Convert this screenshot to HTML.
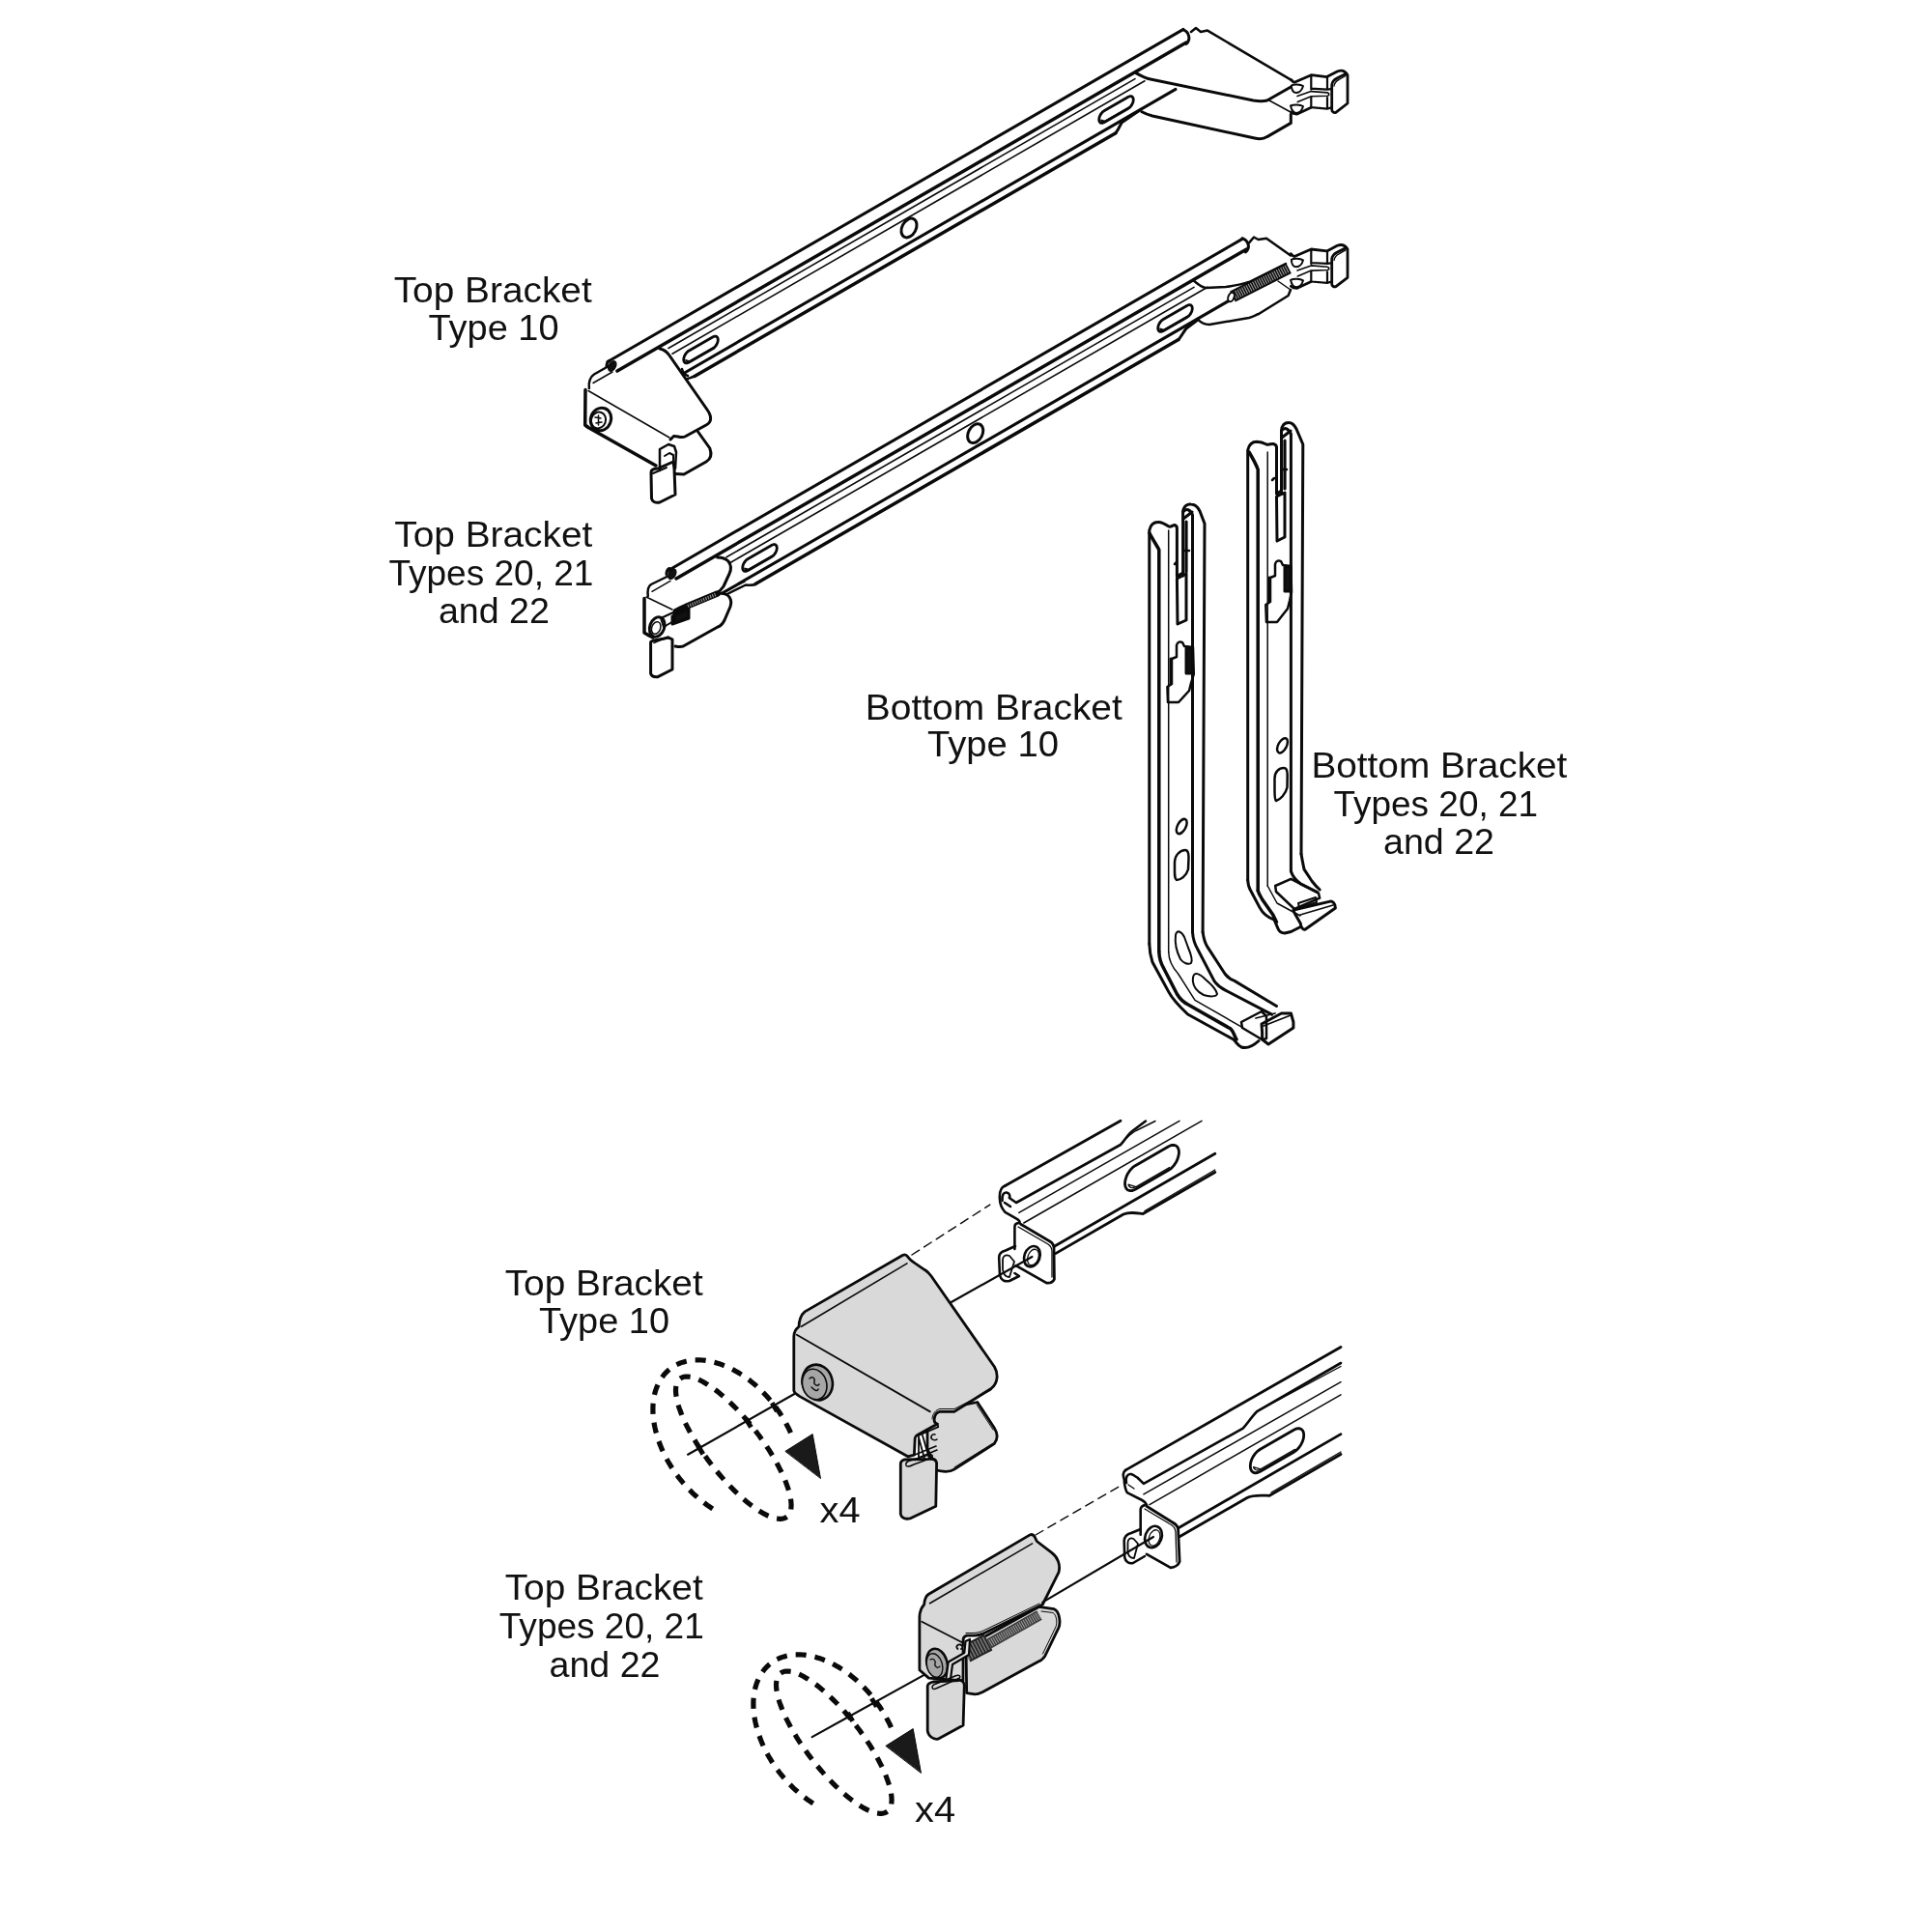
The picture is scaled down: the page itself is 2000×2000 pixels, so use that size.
<!DOCTYPE html>
<html><head><meta charset="utf-8"><style>
html,body{margin:0;padding:0;background:#fff;}
svg{display:block;}
text{font-family:"Liberation Sans",sans-serif;fill:#111;}
svg g.t{will-change:transform;}
</style></head><body>
<svg width="2000" height="2000" viewBox="0 0 2000 2000">
<g stroke="#0a0a0a" stroke-linecap="round" stroke-linejoin="round" fill="none">
<path d="M629.0,374.5L1225.0,30.4" stroke-width="3" fill="none" />
<path d="M639.0,384.1L1228.0,44.0" stroke-width="3.5" fill="none" />
<path d="M631,373.4 C628.5,374.5 628,377 628,379.5" stroke-width="3" fill="none" />
<path d="M1225,30.9 C1231,33 1233,41 1228,45.5" stroke-width="3" fill="none" />
<ellipse cx="633.8" cy="379" rx="3.4" ry="5.6" transform="rotate(30 633.8 379)" stroke-width="1.5" fill="#111"/>
<path d="M609.9,402 C609,396 611,390 615,387.5 L630,379" stroke-width="2.5" fill="none" />
<path d="M614.0,396.5L634.0,385.0" stroke-width="1.5" fill="none" />
<path d="M683,361 C688,362 691,365 693,368 L732,424 C737,431 737,437 731,440 L709,452 C705,454 701,451 697.5,451.5 L694,455" stroke-width="3" fill="none" />
<path d="M609,404.5 L693,453" stroke-width="1.5" fill="none" />
<path d="M606,403.5 L605.7,440 L609,442.5 L679,482" stroke-width="3.5" fill="none" />
<ellipse cx="622" cy="434" rx="10.5" ry="12" transform="rotate(20 622 434)" stroke-width="3" fill="none"/>
<ellipse cx="619.5" cy="435" rx="7.5" ry="8.5" transform="rotate(20 619.5 435)" stroke-width="2" fill="none"/>
<path d="M616,432 L622,433 M617,438 L623,437 M619.5,430 L619.5,440" stroke-width="1.5" fill="none" />
<path d="M683,487 L683,465 L692,460 L698,462 L700,468 L699,485" stroke-width="2.5" fill="none" />
<path d="M688,472 L693,469 L697,471 L697,480" stroke-width="2" fill="none" />
<path d="M674,489 C674,486 677,485 681,485 L697,478 L698,485 L699,512 L683,520 C678,521 675,519 674.5,516 Z" stroke-width="3" fill="none" />
<path d="M676,490 L690,484" stroke-width="2" fill="none" />
<path d="M722.6,447 L734.8,464 C737,470 736,475 731,478 L708,491 L698.5,490.5" stroke-width="3" fill="none" />
<path d="M692.0,360.5L1175.0,81.6" stroke-width="1.6" fill="none" />
<path d="M696.0,366.2L1185.0,83.8" stroke-width="1.6" fill="none" />
<path d="M709.0,385.7L1217.0,92.4" stroke-width="3" fill="none" />
<path d="M706,382 C707,386 709,388 712,389" stroke-width="2.5" fill="none" />
<path d="M719.0,389.4L1155.0,137.7" stroke-width="3.5" fill="none" />
<path d="M712,392 C715,391 717,390.5 719,389.4" stroke-width="2.5" fill="none" />
<path d="M1155,137.6 C1158,134 1159,131 1161,127 L1180,114" stroke-width="3" fill="none" />
<path d="M738.1,348.8 L739.4,348.2 L740.7,348.1 L741.7,348.4 L742.6,349.2 L743.1,350.3 L743.3,351.8 L743.1,353.4 L742.6,355.2 L741.7,356.9 L740.7,358.4 L739.4,359.8 L738.1,360.8 L712.9,375.2 L711.6,375.8 L710.3,375.9 L709.3,375.6 L708.4,374.8 L707.9,373.7 L707.7,372.2 L707.9,370.6 L708.4,368.8 L709.3,367.1 L710.3,365.6 L711.6,364.2 L712.9,363.2 Z" stroke-width="2.8" fill="none" />
<path d="M738.9,359.4 L713.7,373.9 L709.8,372.7 L710.2,373.6 L710.9,374.2 L711.7,374.5 L712.7,374.4 L713.7,373.9" stroke-width="1.3" fill="none" />
<path d="M1168.1,100.2 L1169.4,99.7 L1170.7,99.6 L1171.7,99.9 L1172.6,100.7 L1173.1,101.8 L1173.3,103.2 L1173.1,104.9 L1172.6,106.7 L1171.7,108.4 L1170.7,109.9 L1169.4,111.3 L1168.1,112.2 L1142.9,126.8 L1141.6,127.3 L1140.3,127.4 L1139.3,127.1 L1138.4,126.3 L1137.9,125.2 L1137.7,123.8 L1137.9,122.1 L1138.4,120.3 L1139.3,118.6 L1140.3,117.1 L1141.6,115.7 L1142.9,114.8 Z" stroke-width="2.8" fill="none" />
<path d="M1168.9,110.9 L1143.7,125.4 L1139.8,124.2 L1140.2,125.1 L1140.9,125.7 L1141.7,126.0 L1142.7,125.9 L1143.7,125.4" stroke-width="1.3" fill="none" />
<ellipse cx="941" cy="236" rx="7.2" ry="10.5" transform="rotate(28 941 236)" stroke-width="3" fill="none"/>
<path d="M1233,33 L1238,29 L1243,33 L1250,31.6 L1337.6,83.4" stroke-width="2.5" fill="none" />
<path d="M1176,75.6 C1182,79 1186,81 1191,82 L1297.5,104 C1303,105 1308,105 1311.7,104 L1336.3,90" stroke-width="3" fill="none" />
<path d="M1182,115.8 C1186,118 1189,119 1193,120 L1298.8,143 C1303,144 1308,144 1311.7,141.6 L1336.3,127.4 L1336.3,118.3" stroke-width="3" fill="none" />
<path d="M1314,104 L1336,116" stroke-width="1.5" fill="none" />
<path d="M1336.3,82.4 C1338.0,84.5 1339.0,85.2 1340.0,85.2 L1357.3,77.7 L1373.6,79.6 L1384.3,74.0 C1388.0,72.5 1392.0,72.5 1395.0,77.7 L1395.0,107.0 L1382.9,116.4 C1380.5,117.0 1378.7,115.5 1378.7,113.6 L1378.7,88.0 C1379.0,85.0 1381.0,82.5 1384.0,81.0 L1394.0,76.0" stroke-width="2.8" fill="none" />
<path d="M1381.0,89.0 C1381.5,86.0 1383.0,84.0 1386.0,82.5 L1393.0,78.5" stroke-width="1.4" fill="none" />
<path d="M1357.3,78.0 L1357.3,92.6 M1374.0,79.6 L1374.0,92.6 M1357.3,91.7 L1374.0,92.6 L1378.0,92.1" stroke-width="2.2" fill="none" />
<path d="M1343.0,99.6 L1357.3,94.6 L1374.0,95.9 C1376.5,96.5 1376.5,98.8 1374.0,99.2 L1357.3,99.8 L1343.3,105.6" stroke-width="1.6" fill="none" />
<path d="M1357.3,100.5 L1357.3,111.2 M1374.0,101.0 L1374.0,112.6 M1357.3,111.2 L1374.0,112.6 L1378.5,111.2" stroke-width="2.2" fill="none" />
<path d="M1336.3,115.9 C1338.0,117.5 1340.0,118.2 1342.4,118.2 L1357.3,111.2" stroke-width="2.6" fill="none" />
<path d="M1336.8,88.5 C1339.0,87.0 1346.0,87.0 1349.0,89.0 C1348.0,93.0 1345.0,96.0 1342.0,96.0 C1339.0,96.0 1337.0,93.0 1336.8,88.5 Z" stroke-width="2" fill="none" />
<path d="M1336.0,109.5 C1339.0,108.0 1346.0,108.0 1349.0,110.0 C1348.0,114.0 1345.0,117.0 1342.0,117.0 C1339.0,117.0 1337.0,114.0 1336.0,109.5 Z" stroke-width="2" fill="none" />
<path d="M691.0,591.0L1286.0,247.4" stroke-width="3" fill="none" />
<path d="M700.0,598.9L1290.0,258.2" stroke-width="3.5" fill="none" />
<path d="M693,588.5 C690.5,589.5 690,592 690,594.5" stroke-width="3" fill="none" />
<ellipse cx="695.8" cy="594.2" rx="3.4" ry="5.6" transform="rotate(30 695.8 594.2)" stroke-width="1.5" fill="#111"/>
<path d="M1286,246.7 C1292,249 1295,256 1289.5,261" stroke-width="3" fill="none" />
<path d="M670.8,617 C670,611 671,607 674,605 L690.4,597" stroke-width="2.5" fill="none" />
<path d="M675.0,612.3L694.0,601.3" stroke-width="1.5" fill="none" />
<path d="M667,619.6 L667,655 L672,658 L676,660" stroke-width="3.5" fill="none" />
<path d="M669,618 L696,631" stroke-width="1.5" fill="none" />
<path d="M742.6,577 C748,577 752,579 754,581 C757,585 757,590 755,594 L749,607 C747,610 745,612 742,614" stroke-width="3" fill="none" />
<path d="M700,633 C704,631 707,629 710,628 L742.6,614.5" stroke-width="6.5" fill="none" />
<path d="M712,627.5 L742,615" stroke-width="3.5" fill="none" stroke="#999" stroke-linecap="butt" stroke-dasharray="1.1 1.4"/>
<path d="M696,638 L696,646 L713,640 L713,630 Z" stroke-width="3" fill="#111" />
<path d="M743,614 C749,614 753,615 755,618 C757,621 757,625 756,628 L750,642 C748,646 746,648 743,649 L709,668 C707,670 704,670 699,669" stroke-width="3" fill="none" />
<path d="M673.6,665 L673.6,697 C674,700 677,701 681,700.7 L696,693 L696,662 C693,660 690,660 688,661 L677,663 C675,663.5 673.6,664 673.6,665 Z" stroke-width="3" fill="none" />
<path d="M677,665.5 L692,659" stroke-width="1.6" fill="none" />
<ellipse cx="680.2" cy="649" rx="7.5" ry="10.5" transform="rotate(20 680.2 649)" stroke-width="3" fill="none"/>
<ellipse cx="679.2" cy="650" rx="4.5" ry="6.5" transform="rotate(20 679.2 650)" stroke-width="1.5" fill="none"/>
<path d="M684,640 L697,634 L699,642 L687,649 Z" stroke-width="2" fill="none" />
<path d="M752.0,576.8L1236.0,297.4" stroke-width="1.6" fill="none" />
<path d="M756.0,582.5L1250.0,297.3" stroke-width="1.6" fill="none" />
<path d="M748.0,613.9L1272.0,311.4" stroke-width="3" fill="none" />
<path d="M782.0,604.5L1220.0,351.6" stroke-width="3.5" fill="none" />
<path d="M782,605 C778,606 775,606 772,605.5 L752.8,615" stroke-width="2.5" fill="none" />
<path d="M750,612.5 L771,602" stroke-width="1.5" fill="none" />
<path d="M1220,351.6 C1223,348 1225,344 1228,340 L1240,331" stroke-width="3" fill="none" />
<path d="M799.1,564.2 L800.4,563.7 L801.7,563.6 L802.7,563.9 L803.6,564.7 L804.1,565.8 L804.3,567.2 L804.1,568.9 L803.6,570.7 L802.7,572.4 L801.7,573.9 L800.4,575.3 L799.1,576.2 L773.9,590.8 L772.6,591.3 L771.3,591.4 L770.3,591.1 L769.4,590.3 L768.9,589.2 L768.7,587.8 L768.9,586.1 L769.4,584.3 L770.3,582.6 L771.3,581.1 L772.6,579.7 L773.9,578.8 Z" stroke-width="2.8" fill="none" />
<path d="M799.9,574.9 L774.7,589.4 L770.8,588.2 L771.2,589.1 L771.9,589.7 L772.7,590.0 L773.7,589.9 L774.7,589.4" stroke-width="1.3" fill="none" />
<path d="M1229.1,316.2 L1230.4,315.7 L1231.7,315.6 L1232.7,315.9 L1233.6,316.7 L1234.1,317.8 L1234.3,319.2 L1234.1,320.9 L1233.6,322.7 L1232.7,324.4 L1231.7,325.9 L1230.4,327.3 L1229.1,328.2 L1203.9,342.8 L1202.6,343.3 L1201.3,343.4 L1200.3,343.1 L1199.4,342.3 L1198.9,341.2 L1198.7,339.8 L1198.9,338.1 L1199.4,336.3 L1200.3,334.6 L1201.3,333.1 L1202.6,331.7 L1203.9,330.8 Z" stroke-width="2.8" fill="none" />
<path d="M1229.9,326.9 L1204.7,341.4 L1200.8,340.2 L1201.2,341.1 L1201.9,341.7 L1202.7,342.0 L1203.7,341.9 L1204.7,341.4" stroke-width="1.3" fill="none" />
<ellipse cx="1009.7" cy="448.7" rx="7.2" ry="10.5" transform="rotate(28 1009.7 448.7)" stroke-width="3" fill="none"/>
<path d="M1293,251.4 L1298,245.5 L1302.6,248 L1311,246.7 L1336,264.5" stroke-width="2.5" fill="none" />
<path d="M1236,290.7 C1240,294 1243,297 1248,298 L1269,297 C1278,296 1285,294 1293,292 L1331,273" stroke-width="2.5" fill="none" />
<path d="M1276,307 L1334,277.5" stroke-width="12.5" fill="none" stroke-linecap="butt"/>
<path d="M1278,306 L1333,278" stroke-width="8.5" fill="none" stroke="#9a9a9a" stroke-linecap="butt" stroke-dasharray="1.1 1.4"/>
<ellipse cx="1274.5" cy="307.5" rx="3" ry="5" transform="rotate(20 1274.5 307.5)" stroke-width="2" fill="#fff"/>
<path d="M1239.5,330 C1243,334 1247,336 1252,336 L1293,329 C1297,328 1300,326 1303,325 L1333.6,306 L1336,300" stroke-width="2.5" fill="none" />
<path d="M1323,291 L1336,300" stroke-width="1.5" fill="none" />
<path d="M1336.3,262.7 C1338.0,264.8 1339.0,265.5 1340.0,265.5 L1357.3,258.0 L1373.6,259.9 L1384.3,254.3 C1388.0,252.8 1392.0,252.8 1395.0,258.0 L1395.0,287.3 L1382.9,296.7 C1380.5,297.3 1378.7,295.8 1378.7,293.9 L1378.7,268.3 C1379.0,265.3 1381.0,262.8 1384.0,261.3 L1394.0,256.3" stroke-width="2.8" fill="none" />
<path d="M1381.0,269.3 C1381.5,266.3 1383.0,264.3 1386.0,262.8 L1393.0,258.8" stroke-width="1.4" fill="none" />
<path d="M1357.3,258.3 L1357.3,272.9 M1374.0,259.9 L1374.0,272.9 M1357.3,272.0 L1374.0,272.9 L1378.0,272.4" stroke-width="2.2" fill="none" />
<path d="M1343.0,279.9 L1357.3,274.9 L1374.0,276.2 C1376.5,276.8 1376.5,279.1 1374.0,279.5 L1357.3,280.1 L1343.3,285.9" stroke-width="1.6" fill="none" />
<path d="M1357.3,280.8 L1357.3,291.5 M1374.0,281.3 L1374.0,292.9 M1357.3,291.5 L1374.0,292.9 L1378.5,291.5" stroke-width="2.2" fill="none" />
<path d="M1336.3,296.2 C1338.0,297.8 1340.0,298.5 1342.4,298.5 L1357.3,291.5" stroke-width="2.6" fill="none" />
<path d="M1336.8,268.8 C1339.0,267.3 1346.0,267.3 1349.0,269.3 C1348.0,273.3 1345.0,276.3 1342.0,276.3 C1339.0,276.3 1337.0,273.3 1336.8,268.8 Z" stroke-width="2" fill="none" />
<path d="M1336.0,289.8 C1339.0,288.3 1346.0,288.3 1349.0,290.3 C1348.0,294.3 1345.0,297.3 1342.0,297.3 C1339.0,297.3 1337.0,294.3 1336.0,289.8 Z" stroke-width="2" fill="none" />
<path d="M1189.8,977 L1189.8,549 C1191,543 1195,540.5 1199,540.5 C1203,540.5 1207,543 1210,545 C1212,546 1214,543.5 1216,543.5 C1218,544 1218.4,545 1218.4,547 L1218.4,596.5" stroke-width="3" fill="none" />
<path d="M1190,552 C1192,556 1197,564 1199.8,569 L1199.8,985" stroke-width="3.5" fill="none" />
<path d="M1209.7,549 L1209.7,985.6" stroke-width="1.5" fill="none" />
<path d="M1224.6,596 L1224.6,530 C1225,524 1229,521.5 1233,522 C1237,522 1240,525 1242,529 L1247,542 L1245.1,965" stroke-width="3" fill="none" />
<path d="M1224.6,530 C1228,526 1232,527 1234.5,533 L1234.5,965 M1225,537 L1234,530" stroke-width="3" fill="none" />
<path d="M1228,540 L1228,592" stroke-width="3.2" fill="none" />
<path d="M1216,584 L1218,582 M1227,570 L1231,570" stroke-width="2.5" fill="none" />
<path d="M1218.4,596.5 L1224.6,593 M1218.4,599 L1228,594 L1228,642 L1219,646 Z" stroke-width="3" fill="none" />
<path d="M1208.4,711 L1213,708 L1213,682 L1218,680 L1218,668 C1219,664 1222,664 1224,665 L1226,669 L1235,670 L1235.8,698 L1233,707 L1231,715 L1220,727 L1209,727 Z" stroke-width="2.5" fill="none" />
<path d="M1212,682 L1212,708 M1228,671 L1234,671 L1234,697 L1228,697 Z" stroke-width="3" fill="#111" />
<ellipse cx="1223.2" cy="855.5" rx="4.3" ry="8.3" transform="rotate(28 1223.2 855.5)" stroke-width="2.5" fill="none"/>
<path d="M1216,893 C1216,885 1222,880 1227,880 C1230,880 1230.5,884 1230.5,888 L1230,900 C1228,907 1222,911 1218,911 C1216,910 1216,906 1216,900 Z" stroke-width="2.5" fill="none" />
<path d="M1189.8,977 C1190,985 1191,990 1193,996 L1209.7,1026.6 C1213,1033 1219,1040 1229.6,1050 L1276.8,1076 C1280,1079 1281,1082 1285,1084 C1290,1085.5 1296,1084 1303,1077.5" stroke-width="3" fill="none" />
<path d="M1199.8,985 C1200,992 1202,998 1205,1003 L1218.4,1029 C1222,1035 1226,1038 1230,1040 L1274,1065 C1277,1068 1278,1073 1280,1076" stroke-width="3.5" fill="none" />
<path d="M1209.7,985.6 C1210,995 1214,1002 1219.6,1008 L1237,1035.3 L1286.7,1063.9" stroke-width="1.5" fill="none" />
<path d="M1234.5,965 C1235,972 1237,978 1240,983 L1256.9,1015.4 C1260,1020 1264,1023 1269,1025.3 L1316.5,1050.2" stroke-width="3" fill="none" />
<path d="M1245.1,965 C1246,971 1247,975 1249.4,979.4 L1268,1008 C1271,1012 1274,1014 1278,1015.4 L1321.5,1041.5" stroke-width="3" fill="none" />
<path d="M1217,968 C1216,976 1218,985 1222,993 C1225,997 1230,999 1233,997 C1235,994 1233,988 1230,981 L1226,970 C1223,964 1218,962 1217,968 Z" stroke-width="2" fill="none" />
<path d="M1235,1012 C1234,1020 1238,1026 1246,1030 C1252,1032 1259,1032 1260,1029 C1259,1024 1254,1019 1248,1014 C1242,1008 1236,1005 1235,1012 Z" stroke-width="2" fill="none" />
<path d="M1285,1058 L1306,1047 L1311,1052 L1311,1075 L1306.6,1076.3 L1286,1064 Z" stroke-width="2.5" fill="none" />
<path d="M1306.6,1068.8 L1306.6,1076 L1313,1081 L1338.9,1063.9 L1338.9,1058 L1336.4,1049 L1326.5,1049 L1306,1060 Z" stroke-width="3" fill="none" />
<path d="M1308,1062 L1336,1051 M1300,1054 L1320,1049" stroke-width="1.8" fill="none" />
<path d="M1291.7,911 L1291.7,466 C1293,460 1297,457.3 1301,457.3 C1305,457.5 1308,458.5 1311,460 C1314,461 1316,459 1318,459.5 C1320,460 1321.5,461 1321.5,463 L1321.5,510.7" stroke-width="3" fill="none" />
<path d="M1293,468 C1296,473 1300,480 1302.2,486 L1302.2,922" stroke-width="3.5" fill="none" />
<path d="M1312.2,468 L1312.2,917" stroke-width="1.5" fill="none" />
<path d="M1326.5,511 L1326.5,446 C1327,440 1330,437.5 1334,437.5 C1338,437.5 1340,440 1342,444 L1348.8,460 L1347,884" stroke-width="3" fill="none" />
<path d="M1326.5,446 C1330,442 1333,443 1336.4,449 L1336.4,902 M1327,453 L1336,446" stroke-width="3" fill="none" />
<path d="M1330,456 L1330,506" stroke-width="3.2" fill="none" />
<path d="M1321.5,511 L1326.5,508 M1321.5,514 L1330,510 L1330,556 L1322,560 Z" stroke-width="3" fill="none" />
<path d="M1317,497 L1319,495 M1328,486 L1332,486" stroke-width="2.5" fill="none" />
<path d="M1310.3,626 L1315,623 L1315,598 L1320,596 L1320,584 C1321,580 1324,580 1326,581 L1328,585 L1336.4,586 L1337,613 L1335,622 L1333,630 L1322,644 L1311,644 Z" stroke-width="2.5" fill="none" />
<path d="M1314,598 L1314,622 M1330,587 L1336,587 L1336,612 L1330,612 Z" stroke-width="3" fill="#111" />
<ellipse cx="1327.5" cy="771.8" rx="4.3" ry="8.3" transform="rotate(28 1327.5 771.8)" stroke-width="2.5" fill="none"/>
<path d="M1319.5,806 C1319.5,799 1324,795 1329,795 C1332,795 1332.7,798 1332.7,802 L1332.5,815 C1331,822 1325,828 1321,829 C1319.5,828 1319.5,824 1319.5,818 Z" stroke-width="2.5" fill="none" />
<path d="M1291.7,911 C1292,916 1293,919 1294.2,921 L1304.1,939.6 C1307,945 1313,950 1319,952 L1322.7,960.7 C1324,964 1326,966 1330,966 L1336.4,964.5 L1346.3,959.5" stroke-width="3" fill="none" />
<path d="M1302.2,922 C1303,925 1305,928 1306.6,931 L1317.8,947.1 L1321.5,954.5" stroke-width="3.5" fill="none" />
<path d="M1312.2,917 L1322,935 L1346,948" stroke-width="1.5" fill="none" />
<path d="M1336.4,902 C1338,907 1341,911 1346.3,914.8 L1363.7,923.5" stroke-width="3" fill="none" />
<path d="M1347,884 C1348,890 1349,895 1350,899.9 L1358,912 C1361,916 1364,919 1366.2,921" stroke-width="3" fill="none" />
<path d="M1320.2,917 L1336.4,909.8 L1365,924.7 L1366.2,929.7 L1340,941 L1321,923 Z" stroke-width="2.5" fill="none" />
<path d="M1338.9,942 L1376,933.4 C1379,932 1382.4,935 1382.4,940 L1351.3,962 C1349,963 1346.5,960 1346.3,956 L1340,945 Z" stroke-width="3" fill="none" />
<path d="M1346,947 L1380,937" stroke-width="1.5" fill="none" />
<path d="M1344,935 L1362,929 L1363,934 L1345,940 Z" stroke-width="2" fill="none" />
<path d="M782.0,1481.1 L784.2,1484.0 L786.3,1486.8 L788.3,1489.7 L790.4,1492.6 L792.4,1495.4 L794.3,1498.3 L796.2,1501.2 L798.0,1504.1 L799.7,1507.0 L801.4,1509.9 L803.1,1512.7 L804.6,1515.5 L806.1,1518.3 L807.5,1521.1 L808.9,1523.8 L810.2,1526.5 L811.4,1529.2 L812.5,1531.8 L813.5,1534.4 L814.4,1536.9 L815.3,1539.3 L816.1,1541.7 L816.8,1544.0 L817.4,1546.3 L817.9,1548.4 L818.3,1550.5 L818.6,1552.5 L818.9,1554.5 L819.0,1556.3 L819.1,1558.1 L819.0,1559.7 L818.9,1561.3 L818.7,1562.8 L818.4,1564.2 L817.9,1565.4 L817.5,1566.6 L816.9,1567.7 L816.2,1568.6 L815.4,1569.5 L814.6,1570.2 L813.6,1570.9 L812.6,1571.4 L811.5,1571.8 L810.3,1572.1 L809.1,1572.3 L807.8,1572.3 L806.3,1572.3 L804.9,1572.1 L803.3,1571.9 L801.7,1571.5 L800.0,1571.0 L798.2,1570.4 L796.4,1569.7 L794.6,1568.9 L792.6,1567.9 L790.7,1566.9 L788.7,1565.7 L786.6,1564.5 L784.5,1563.1 L782.3,1561.7 L780.2,1560.1 L777.9,1558.5 L775.7,1556.8 L773.4,1554.9 L771.1,1553.0 L768.8,1551.0 L766.5,1549.0 L764.2,1546.8 L761.8,1544.6 L759.5,1542.3 L757.1,1539.9 L754.8,1537.5 L752.5,1535.0 L750.1,1532.5 L747.8,1529.9 L745.5,1527.2 L743.2,1524.5 L741.0,1521.8 L738.8,1519.0 L736.6,1516.3 L734.4,1513.4 L732.3,1510.6 L730.3,1507.7 L728.2,1504.8 L726.2,1502.0 L724.3,1499.1 L722.4,1496.2 L720.6,1493.3 L718.9,1490.4 L717.2,1487.5 L715.5,1484.7 L714.0,1481.9 L712.5,1479.1 L711.1,1476.3 L709.7,1473.6 L708.4,1470.9 L707.2,1468.2 L706.1,1465.6 L705.1,1463.0 L704.2,1460.5 L703.3,1458.1 L702.5,1455.7 L701.8,1453.4 L701.2,1451.1 L700.7,1449.0 L700.3,1446.9 L700.0,1444.9 L699.7,1442.9 L699.6,1441.1 L699.5,1439.3 L699.6,1437.7 L699.7,1436.1 L699.9,1434.6 L700.2,1433.2 L700.7,1432.0 L701.1,1430.8 L701.7,1429.7 L702.4,1428.8 L703.2,1427.9 L704.0,1427.2 L705.0,1426.5 L706.0,1426.0 L707.1,1425.6 L708.3,1425.3 L709.5,1425.1 L710.8,1425.1 L712.3,1425.1 L713.7,1425.3 L715.3,1425.5 L716.9,1425.9 L718.6,1426.4 L720.4,1427.0 L722.2,1427.7 L724.0,1428.5 L726.0,1429.5 L727.9,1430.5 L729.9,1431.7 L732.0,1432.9 L734.1,1434.3 L736.3,1435.7 L738.4,1437.3 L740.7,1438.9 L742.9,1440.6 L745.2,1442.5 L747.5,1444.4 L749.8,1446.4 L752.1,1448.4 L754.4,1450.6 L756.8,1452.8 L759.1,1455.1 L761.5,1457.5 L763.8,1459.9 L766.1,1462.4 L768.5,1464.9 L770.8,1467.5 L773.1,1470.2 L775.4,1472.9 L777.6,1475.6 L779.8,1478.4 L782.0,1481.1" stroke-width="5.2" fill="none" stroke-dasharray="11 9" stroke-linecap="butt"/>
<path d="M737.8,1561.9 L735.9,1560.7 L734.0,1559.4 L732.1,1558.1 L730.2,1556.7 L728.3,1555.3 L726.5,1553.9 L724.7,1552.4 L722.9,1550.9 L721.1,1549.3 L719.3,1547.7 L717.5,1546.1 L715.8,1544.4 L714.1,1542.7 L712.4,1541.0 L710.8,1539.2 L709.2,1537.4 L707.6,1535.6 L706.0,1533.7 L704.5,1531.8 L702.9,1529.9 L701.5,1528.0 L700.0,1526.0 L698.6,1524.0 L697.3,1522.0 L695.9,1520.0 L694.6,1518.0 L693.4,1515.9 L692.1,1513.8 L690.9,1511.7 L689.8,1509.6 L688.7,1507.5 L687.6,1505.4 L686.6,1503.3 L685.6,1501.1 L684.7,1499.0 L683.8,1496.8 L683.0,1494.7 L682.2,1492.5 L681.4,1490.4 L680.7,1488.2 L680.1,1486.1 L679.5,1483.9 L678.9,1481.8 L678.4,1479.6 L677.9,1477.5 L677.5,1475.4 L677.1,1473.3 L676.8,1471.2 L676.5,1469.1 L676.3,1467.0 L676.1,1465.0 L676.0,1463.0 L675.9,1460.9 L675.9,1459.0 L675.9,1457.0 L676.0,1455.0 L676.1,1453.1 L676.3,1451.2 L676.5,1449.3 L676.8,1447.5 L677.1,1445.7 L677.5,1443.9 L677.9,1442.1 L678.4,1440.4 L678.9,1438.7 L679.5,1437.1 L680.1,1435.5 L680.8,1433.9 L681.5,1432.4 L682.2,1430.9 L683.0,1429.4 L683.9,1428.0 L684.8,1426.6 L685.7,1425.3 L686.7,1424.0 L687.7,1422.7 L688.8,1421.5 L689.9,1420.4 L691.0,1419.3 L692.2,1418.2 L693.4,1417.2 L694.7,1416.2 L696.0,1415.3 L697.4,1414.5 L698.7,1413.6 L700.1,1412.9 L701.6,1412.2 L703.1,1411.5 L704.6,1410.9 L706.1,1410.4 L707.7,1409.9 L709.3,1409.4 L710.9,1409.0 L712.6,1408.7 L714.2,1408.4 L715.9,1408.2 L717.7,1408.0 L719.4,1407.9 L721.2,1407.9 L723.0,1407.9 L724.8,1407.9 L726.6,1408.0 L728.5,1408.2 L730.3,1408.4 L732.2,1408.7 L734.1,1409.0 L736.0,1409.4 L737.9,1409.8 L739.8,1410.3 L741.8,1410.9 L743.7,1411.5 L745.6,1412.1 L747.6,1412.8 L749.5,1413.6 L751.5,1414.4 L753.4,1415.2 L755.4,1416.1 L757.3,1417.1 L759.3,1418.1 L761.2,1419.2 L763.1,1420.3 L765.1,1421.4 L767.0,1422.6 L768.9,1423.8 L770.8,1425.1 L772.7,1426.5 L774.5,1427.8 L776.4,1429.2 L778.2,1430.7 L780.1,1432.2 L781.9,1433.7 L783.6,1435.3 L785.4,1436.9 L787.1,1438.6 L788.9,1440.3 L790.6,1442.0 L792.2,1443.7 L793.9,1445.5 L795.5,1447.3 L797.1,1449.2 L798.6,1451.0 L800.1,1452.9 L801.6,1454.8 L803.1,1456.8 L804.5,1458.8 L805.9,1460.7 L807.3,1462.8 L808.6,1464.8 L809.9,1466.8 L811.1,1468.9 L812.3,1471.0 L813.5,1473.1 L814.6,1475.2 L815.7,1477.3 L816.8,1479.4 L817.8,1481.6 L818.7,1483.7 L819.6,1485.9 L820.5,1488.0 L821.3,1490.2" stroke-width="5.2" fill="none" stroke-dasharray="11 9" stroke-linecap="butt"/>
<path d="M813.2,1502.2 L841.2,1484.6 L849.4,1530.1 Z" stroke-width="1" fill="#1a1a1a" />
<path d="M886.0,1786.1 L888.2,1789.0 L890.3,1791.8 L892.3,1794.7 L894.4,1797.6 L896.4,1800.4 L898.3,1803.3 L900.2,1806.2 L902.0,1809.1 L903.7,1812.0 L905.4,1814.9 L907.1,1817.7 L908.6,1820.5 L910.1,1823.3 L911.5,1826.1 L912.9,1828.8 L914.2,1831.5 L915.4,1834.2 L916.5,1836.8 L917.5,1839.4 L918.4,1841.9 L919.3,1844.3 L920.1,1846.7 L920.8,1849.0 L921.4,1851.3 L921.9,1853.4 L922.3,1855.5 L922.6,1857.5 L922.9,1859.5 L923.0,1861.3 L923.1,1863.1 L923.0,1864.7 L922.9,1866.3 L922.7,1867.8 L922.4,1869.2 L921.9,1870.4 L921.5,1871.6 L920.9,1872.7 L920.2,1873.6 L919.4,1874.5 L918.6,1875.2 L917.6,1875.9 L916.6,1876.4 L915.5,1876.8 L914.3,1877.1 L913.1,1877.3 L911.8,1877.3 L910.3,1877.3 L908.9,1877.1 L907.3,1876.9 L905.7,1876.5 L904.0,1876.0 L902.2,1875.4 L900.4,1874.7 L898.6,1873.9 L896.6,1872.9 L894.7,1871.9 L892.7,1870.7 L890.6,1869.5 L888.5,1868.1 L886.3,1866.7 L884.2,1865.1 L881.9,1863.5 L879.7,1861.8 L877.4,1859.9 L875.1,1858.0 L872.8,1856.0 L870.5,1854.0 L868.2,1851.8 L865.8,1849.6 L863.5,1847.3 L861.1,1844.9 L858.8,1842.5 L856.5,1840.0 L854.1,1837.5 L851.8,1834.9 L849.5,1832.2 L847.2,1829.5 L845.0,1826.8 L842.8,1824.0 L840.6,1821.3 L838.4,1818.4 L836.3,1815.6 L834.3,1812.7 L832.2,1809.8 L830.2,1807.0 L828.3,1804.1 L826.4,1801.2 L824.6,1798.3 L822.9,1795.4 L821.2,1792.5 L819.5,1789.7 L818.0,1786.9 L816.5,1784.1 L815.1,1781.3 L813.7,1778.6 L812.4,1775.9 L811.2,1773.2 L810.1,1770.6 L809.1,1768.0 L808.2,1765.5 L807.3,1763.1 L806.5,1760.7 L805.8,1758.4 L805.2,1756.1 L804.7,1754.0 L804.3,1751.9 L804.0,1749.9 L803.7,1747.9 L803.6,1746.1 L803.5,1744.3 L803.6,1742.7 L803.7,1741.1 L803.9,1739.6 L804.2,1738.2 L804.7,1737.0 L805.1,1735.8 L805.7,1734.7 L806.4,1733.8 L807.2,1732.9 L808.0,1732.2 L809.0,1731.5 L810.0,1731.0 L811.1,1730.6 L812.3,1730.3 L813.5,1730.1 L814.8,1730.1 L816.3,1730.1 L817.7,1730.3 L819.3,1730.5 L820.9,1730.9 L822.6,1731.4 L824.4,1732.0 L826.2,1732.7 L828.0,1733.5 L830.0,1734.5 L831.9,1735.5 L833.9,1736.7 L836.0,1737.9 L838.1,1739.3 L840.3,1740.7 L842.4,1742.3 L844.7,1743.9 L846.9,1745.6 L849.2,1747.5 L851.5,1749.4 L853.8,1751.4 L856.1,1753.4 L858.4,1755.6 L860.8,1757.8 L863.1,1760.1 L865.5,1762.5 L867.8,1764.9 L870.1,1767.4 L872.5,1769.9 L874.8,1772.5 L877.1,1775.2 L879.4,1777.9 L881.6,1780.6 L883.8,1783.4 L886.0,1786.1" stroke-width="5.2" fill="none" stroke-dasharray="11 9" stroke-linecap="butt"/>
<path d="M841.8,1866.9 L839.9,1865.7 L838.0,1864.4 L836.1,1863.1 L834.2,1861.7 L832.3,1860.3 L830.5,1858.9 L828.7,1857.4 L826.9,1855.9 L825.1,1854.3 L823.3,1852.7 L821.5,1851.1 L819.8,1849.4 L818.1,1847.7 L816.4,1846.0 L814.8,1844.2 L813.2,1842.4 L811.6,1840.6 L810.0,1838.7 L808.5,1836.8 L806.9,1834.9 L805.5,1833.0 L804.0,1831.0 L802.6,1829.0 L801.3,1827.0 L799.9,1825.0 L798.6,1823.0 L797.4,1820.9 L796.1,1818.8 L794.9,1816.7 L793.8,1814.6 L792.7,1812.5 L791.6,1810.4 L790.6,1808.3 L789.6,1806.1 L788.7,1804.0 L787.8,1801.8 L787.0,1799.7 L786.2,1797.5 L785.4,1795.4 L784.7,1793.2 L784.1,1791.1 L783.5,1788.9 L782.9,1786.8 L782.4,1784.6 L781.9,1782.5 L781.5,1780.4 L781.1,1778.3 L780.8,1776.2 L780.5,1774.1 L780.3,1772.0 L780.1,1770.0 L780.0,1768.0 L779.9,1765.9 L779.9,1764.0 L779.9,1762.0 L780.0,1760.0 L780.1,1758.1 L780.3,1756.2 L780.5,1754.3 L780.8,1752.5 L781.1,1750.7 L781.5,1748.9 L781.9,1747.1 L782.4,1745.4 L782.9,1743.7 L783.5,1742.1 L784.1,1740.5 L784.8,1738.9 L785.5,1737.4 L786.2,1735.9 L787.0,1734.4 L787.9,1733.0 L788.8,1731.6 L789.7,1730.3 L790.7,1729.0 L791.7,1727.7 L792.8,1726.5 L793.9,1725.4 L795.0,1724.3 L796.2,1723.2 L797.4,1722.2 L798.7,1721.2 L800.0,1720.3 L801.4,1719.5 L802.7,1718.6 L804.1,1717.9 L805.6,1717.2 L807.1,1716.5 L808.6,1715.9 L810.1,1715.4 L811.7,1714.9 L813.3,1714.4 L814.9,1714.0 L816.6,1713.7 L818.2,1713.4 L819.9,1713.2 L821.7,1713.0 L823.4,1712.9 L825.2,1712.9 L827.0,1712.9 L828.8,1712.9 L830.6,1713.0 L832.5,1713.2 L834.3,1713.4 L836.2,1713.7 L838.1,1714.0 L840.0,1714.4 L841.9,1714.8 L843.8,1715.3 L845.8,1715.9 L847.7,1716.5 L849.6,1717.1 L851.6,1717.8 L853.5,1718.6 L855.5,1719.4 L857.4,1720.2 L859.4,1721.1 L861.3,1722.1 L863.3,1723.1 L865.2,1724.2 L867.1,1725.3 L869.1,1726.4 L871.0,1727.6 L872.9,1728.8 L874.8,1730.1 L876.7,1731.5 L878.5,1732.8 L880.4,1734.2 L882.2,1735.7 L884.1,1737.2 L885.9,1738.7 L887.6,1740.3 L889.4,1741.9 L891.1,1743.6 L892.9,1745.3 L894.6,1747.0 L896.2,1748.7 L897.9,1750.5 L899.5,1752.3 L901.1,1754.2 L902.6,1756.0 L904.1,1757.9 L905.6,1759.8 L907.1,1761.8 L908.5,1763.8 L909.9,1765.7 L911.3,1767.8 L912.6,1769.8 L913.9,1771.8 L915.1,1773.9 L916.3,1776.0 L917.5,1778.1 L918.6,1780.2 L919.7,1782.3 L920.8,1784.4 L921.8,1786.6 L922.7,1788.7 L923.6,1790.9 L924.5,1793.0 L925.3,1795.2" stroke-width="5.2" fill="none" stroke-dasharray="11 9" stroke-linecap="butt"/>
<path d="M917.2,1807.2 L945.2,1789.6 L953.4,1835.1 Z" stroke-width="1" fill="#1a1a1a" />
<path d="M712.1,1505.7 L832,1437.5" stroke-width="2.2" fill="none" />
<path d="M722.6,1496.8 L727.8000000000001,1505.3999999999999" stroke-width="5" fill="none" stroke-linecap="butt"/>
<path d="M772.3,1468.9 L777.5,1477.5" stroke-width="5" fill="none" stroke-linecap="butt"/>
<path d="M799.1999999999999,1452.3 L804.4,1460.8999999999999" stroke-width="5" fill="none" stroke-linecap="butt"/>
<path d="M960,1462 L1011.8,1451.5 L1029.2,1478 C1033,1484 1033,1490 1029.2,1494.6 L987.8,1521.1 C985,1523 980,1524 972.9,1522.7 L969.6,1522 L960,1500 Z" stroke-width="2.8" fill="#d9d9d9" />
<path d="M1011,1454 L1028,1480 M988,1519 L1028,1494" stroke-width="1.0" fill="none" />
<path d="M821.8,1383.5 C822,1378 824,1376 827.1,1373.3 C827,1368 829,1361 833.1,1357.9 L934.3,1299.5 C936,1298.5 938,1299 939,1300.1 L942.6,1304.3 C947,1308 952,1311 958.1,1315 C961,1317 962.5,1319 964,1321 L1029.5,1415 C1033,1421 1034,1431 1026,1437.5 L987.8,1461.4 L972.9,1461.4 C969,1462 967.5,1465 967.1,1469.7 C967,1472 968.5,1473.5 970.4,1474 L949.7,1485.5 C948,1486.5 947.2,1487.5 947.2,1488.8 L946.4,1506.2 L939.8,1507.8 L828,1445.6 C824,1443 821.8,1441 821.8,1439.4 Z" stroke-width="2.8" fill="#d9d9d9" />
<path d="M829.5,1373.3 L939,1307.9" stroke-width="1.6" fill="none" />
<path d="M824.8,1381.7 L962.9,1461.4" stroke-width="1.8" fill="none" />
<path d="M1026,1439 L988,1458.5 L973,1458.5 C969,1459.5 965,1463 965,1469" stroke-width="1.0" fill="none" />
<path d="M970.4,1474 L971.3,1477.2 L951,1486 L951,1508 M951,1488 L957,1510 M955,1486 L962,1510" stroke-width="1.8" fill="none" />
<path d="M946.4,1506.2 L969,1497 M951,1509 L970,1501" stroke-width="1.6" fill="none" />
<path d="M968,1485 C965,1484 963,1487 964.5,1489.5 C966,1491 969,1491 970,1490" stroke-width="1.6" fill="none" />
<path d="M932.3,1515 L932.3,1567.5 C933,1571 937,1573 942,1572 L968.8,1559.2 L969.6,1514.5 C969,1511 967,1510 963,1510.3 L936,1511 C933.5,1512 932.3,1513 932.3,1515 Z" stroke-width="2.8" fill="#d9d9d9" />
<path d="M938,1517 C937,1514 939,1513 942,1512 L962,1506 C965,1505 966,1507 965,1509 L946,1516 C942,1518 939,1519 938,1517 Z" stroke-width="1.5" fill="none" />
<ellipse cx="846.2" cy="1431" rx="15.5" ry="18.5" transform="rotate(-15 846.2 1431)" stroke-width="2.6" fill="#a6a6a6"/>
<ellipse cx="843.2" cy="1433" rx="12.5" ry="16" transform="rotate(-15 843.2 1433)" stroke-width="1.6" fill="#a6a6a6"/>
<path d="M838,1427 C841,1424 844,1427 843,1430 C842,1433 846,1436 848,1433 M840,1436 C843,1439 846,1441 847,1438" stroke-width="1.4" fill="none" />
<path d="M984.3,1348.3 L1068.4,1301" stroke-width="2.2" fill="none" />
<path d="M944,1299 L1024.8,1247.1" stroke-width="1.4" fill="none" stroke-dasharray="9 6"/>
<path d="M1040.5,1227.5 L1160,1160.2" stroke-width="2.8" fill="none" />
<path d="M1040.5,1227.5 C1036,1229 1034.5,1233 1034.9,1240.5 C1035,1246 1036,1250 1040.5,1254.8 L1052.3,1261.6 C1055,1263 1056,1265 1055.4,1266 C1052,1266 1050.4,1267.8 1050.4,1270 L1050.4,1293" stroke-width="2.6" fill="none" />
<path d="M1037.5,1243 C1037,1237 1039,1234 1042,1234.5 C1045,1235 1046,1238 1044.8,1240 L1052,1245 L1160,1185 C1164,1181 1167,1175 1172,1171 L1186,1160.5 M1040,1245 L1046,1249" stroke-width="2.6" fill="none" />
<path d="M1162,1183 C1166,1178 1170,1174 1176,1170.5 L1196,1160.5" stroke-width="1.4" fill="none" />
<path d="M1054.8,1255.4 L1221,1160.4" stroke-width="1.5" fill="none" />
<path d="M1059.8,1266 L1244,1160.4" stroke-width="1.5" fill="none" />
<path d="M1056.6,1267.2 L1087.1,1285.2 C1090,1287 1091,1289 1091,1292 L1091.4,1324.3 C1090,1327 1087,1328.5 1083.4,1328.1 L1051.7,1310.1" stroke-width="2.8" fill="none" />
<path d="M1054,1270 L1085,1288 C1088,1290 1089,1293 1089,1296 L1089,1322" stroke-width="1.3" fill="none" />
<path d="M1091.4,1290.2 L1257.8,1194.3" stroke-width="2.8" fill="none" />
<path d="M1092.7,1297.6 L1163,1257 C1170,1254 1178,1256 1183.2,1256.5 L1257.8,1213.5" stroke-width="2.8" fill="none" />
<path d="M1185,1253.5 L1257.8,1211" stroke-width="1.3" fill="none" />
<path d="M1209.8,1186.7 L1212.6,1185.5 L1215.1,1185.3 L1217.4,1186.0 L1219.0,1187.5 L1220.1,1189.9 L1220.5,1192.8 L1220.1,1196.2 L1219.0,1199.8 L1217.4,1203.3 L1215.1,1206.6 L1212.6,1209.3 L1209.8,1211.3 L1175.2,1231.3 L1172.4,1232.5 L1169.9,1232.7 L1167.6,1232.0 L1166.0,1230.5 L1164.9,1228.1 L1164.5,1225.2 L1164.9,1221.8 L1166.0,1218.2 L1167.6,1214.7 L1169.9,1211.4 L1172.4,1208.7 L1175.2,1206.7 Z" stroke-width="2.8" fill="none" />
<path d="M1210.6,1208.6 L1176.0,1228.6 L1168.0,1226.1 L1168.8,1228.0 L1170.1,1229.2 L1171.8,1229.7 L1173.8,1229.5 L1176.0,1228.6" stroke-width="1.3" fill="none" />
<ellipse cx="1068.4" cy="1300.7" rx="8" ry="11" transform="rotate(20 1068.4 1300.7)" stroke-width="2.6" fill="none"/>
<ellipse cx="1069.5" cy="1301.5" rx="5.5" ry="8.5" transform="rotate(20 1069.5 1301.5)" stroke-width="1.3" fill="none"/>
<path d="M1034.2,1302 C1034,1297 1037,1295.5 1041,1294.5 L1051,1290 M1034.2,1302 L1035,1320 C1036,1325 1040,1327 1045,1326 L1055,1321 L1050.4,1318" stroke-width="2.6" fill="none" />
<path d="M1038,1304 C1038,1300 1041,1298.5 1045,1300 L1050,1306 L1045,1322 C1040,1322 1038.5,1318 1038,1314 Z" stroke-width="1.8" fill="none" />
<path d="M840.7,1798.1 L956.7,1733.9" stroke-width="2.2" fill="none" />
<path d="M877.5,1773.1000000000001 L882.7,1781.7" stroke-width="5" fill="none" stroke-linecap="butt"/>
<path d="M902.3,1758.2 L907.5,1766.8" stroke-width="5" fill="none" stroke-linecap="butt"/>
<path d="M1000.7,1752.6 L1000,1705 L1075.7,1663.3 L1091.2,1665.7 C1097,1668 1098,1680 1096,1684.8 L1081.7,1714.5 C1080,1717 1078,1719 1075,1720 L1017.4,1751.4 C1014,1753 1011,1754 1009,1753.8 Z" stroke-width="2.8" fill="#d9d9d9" />
<path d="M1078,1668 L1090,1669.5 C1094,1672 1094.5,1680 1093,1684 L1079.5,1712" stroke-width="1.0" fill="none" />
<path d="M951.9,1728.8 L951.9,1674 C952,1668 954,1664 956.7,1661 C957,1656 958.5,1652 961.4,1650.2 L1066.2,1588.9 C1068,1588 1070,1589 1071,1590.7 L1073.3,1595.5 L1088.8,1607.4 C1095,1612 1098,1620 1096,1627.6 L1079.3,1661 L1018.6,1690.7 C1015,1692.5 1012,1693 1009,1693.1 L1000.7,1693.1 C998,1694 997,1696 997.1,1697.9 L997,1740 L961.4,1737.1 Z" stroke-width="2.8" fill="#d9d9d9" />
<path d="M962.6,1659.8 L1068.6,1597.9" stroke-width="1.6" fill="none" />
<path d="M954.3,1678.8 L996,1700.2" stroke-width="1.8" fill="none" />
<path d="M1076,1660 L1018,1688 C1014,1690 1010,1690.5 1006,1690.5 L1000,1690.5" stroke-width="1.0" fill="none" />
<path d="M1023,1702 L1076,1672" stroke-width="11" fill="none" stroke="#3a3a3a" stroke-linecap="butt"/>
<path d="M1023,1702 L1076,1672" stroke-width="8" fill="none" stroke="#9a9a9a" stroke-linecap="butt" stroke-dasharray="1.1 1.3"/>
<path d="M1000,1712 L1023,1700" stroke-width="19" fill="none" stroke="#222" stroke-linecap="butt"/>
<path d="M1000,1712 L1023,1700" stroke-width="15" fill="none" stroke="#777" stroke-linecap="butt" stroke-dasharray="1.6 1.6"/>
<ellipse cx="970" cy="1722" rx="10.5" ry="15.5" transform="rotate(-15 970 1722)" stroke-width="2.4" fill="#a6a6a6"/>
<ellipse cx="967.5" cy="1724" rx="8" ry="12.5" transform="rotate(-15 967.5 1724)" stroke-width="1.4" fill="#a6a6a6"/>
<path d="M963,1718 C966,1716 969,1719 968,1722 C967,1725 971,1728 973,1725" stroke-width="1.3" fill="none" />
<path d="M979.3,1738.3 L981.7,1720.5 L998.3,1711 L999.5,1699 L1004,1697 L1003,1713 L986,1723 L984,1738" stroke-width="2.2" fill="#e6e6e6" />
<path d="M991.5,1707 C989,1705 991,1702 994,1702.5 C997,1703 997,1706 995,1707" stroke-width="1.8" fill="none" />
<path d="M960.2,1745.5 L960.2,1791.9 C961,1797 966,1801 971,1800.2 L997.1,1786 L998.3,1744.3 C998,1741 995,1739 992.4,1739.5 L966,1741 C962,1742 960.2,1743 960.2,1745.5 Z" stroke-width="2.8" fill="#d9d9d9" />
<path d="M965.5,1748 C964,1745.5 966,1744 969,1743 L990,1734.5 C993,1733.5 994.5,1735 993.5,1737 L970,1747.5 C968,1748.5 966.5,1749 965.5,1748 Z" stroke-width="1.5" fill="none" />
<path d="M1079.3,1658.6 L1194,1591" stroke-width="2.2" fill="none" />
<path d="M1072,1589 L1160,1538" stroke-width="1.4" fill="none" stroke-dasharray="9 6"/>
<path d="M1165.2,1521.9 L1388,1394.5" stroke-width="2.8" fill="none" />
<path d="M1165.2,1521.9 C1162.5,1524 1162.5,1528 1163.7,1531.2 C1164,1538 1165,1542 1166.8,1545.2 L1182.3,1553 C1185,1554.5 1186.5,1556 1187,1557.6 C1184,1558 1181,1559.5 1180.7,1562.3 L1180.7,1588.7" stroke-width="2.6" fill="none" />
<path d="M1166,1535 C1165,1529 1167,1525.5 1171,1526 C1174,1527 1176,1529 1177.6,1529.7 L1183.9,1535.9 L1286.7,1478.6 C1292,1473 1296,1466 1301.2,1461.2 L1388,1411" stroke-width="2.6" fill="none" />
<path d="M1168,1537 L1174,1541" stroke-width="1.4" fill="none" />
<path d="M1301.2,1461.2 L1388,1414.5" stroke-width="1.4" fill="none" />
<path d="M1183.9,1546.8 L1388,1430.7" stroke-width="1.5" fill="none" />
<path d="M1190,1557.6 L1388,1443.8" stroke-width="1.5" fill="none" />
<path d="M1187,1559.2 L1211.8,1574.7 C1216,1577 1219.5,1579 1219.6,1583 L1221.1,1616.6 C1220,1620 1216,1622.5 1211.8,1622.9 L1187,1608.9" stroke-width="2.8" fill="none" />
<path d="M1185,1562 L1210,1577 C1214,1579 1217,1582 1217,1586 L1218,1617" stroke-width="1.3" fill="none" />
<path d="M1219.5,1582 L1388,1484.6" stroke-width="2.8" fill="none" />
<path d="M1221.5,1590.5 L1291,1550.5 C1297,1547 1306,1548 1314.2,1548.3 L1388,1505.5" stroke-width="2.8" fill="none" />
<path d="M1316,1545 L1388,1503" stroke-width="1.3" fill="none" />
<path d="M1339.8,1480.0 L1342.3,1478.9 L1344.7,1478.6 L1346.8,1479.3 L1348.4,1480.7 L1349.4,1482.9 L1349.7,1485.7 L1349.4,1488.9 L1348.4,1492.2 L1346.8,1495.5 L1344.7,1498.5 L1342.3,1501.1 L1339.8,1503.0 L1304.2,1523.5 L1301.7,1524.5 L1299.3,1524.8 L1297.2,1524.1 L1295.6,1522.7 L1294.6,1520.5 L1294.3,1517.7 L1294.6,1514.5 L1295.6,1511.2 L1297.2,1507.9 L1299.3,1504.9 L1301.7,1502.3 L1304.2,1500.5 Z" stroke-width="2.8" fill="none" />
<path d="M1340.6,1500.4 L1305.0,1520.9 L1297.5,1518.6 L1298.3,1520.3 L1299.6,1521.5 L1301.2,1522.0 L1303.0,1521.8 L1305.0,1520.9" stroke-width="1.3" fill="none" />
<ellipse cx="1194" cy="1591" rx="8.5" ry="11.5" transform="rotate(20 1194 1591)" stroke-width="2.6" fill="none"/>
<ellipse cx="1195" cy="1592" rx="5.5" ry="8.5" transform="rotate(20 1195 1592)" stroke-width="1.3" fill="none"/>
<path d="M1163.7,1595 C1164,1590 1167,1588 1171,1587 L1180.7,1583 M1163.7,1595 L1164.2,1612 C1165,1617 1169,1619 1173,1618 L1185,1611" stroke-width="2.6" fill="none" />
<path d="M1167.5,1597 C1167.5,1593 1170,1591.5 1173.5,1593 L1178,1598 L1174,1613 C1170,1613 1168,1610 1167.5,1607 Z" stroke-width="1.8" fill="none" />
</g>
<g class="t">
<text x="510.2" y="313" font-size="36" text-anchor="middle" textLength="205" lengthAdjust="spacingAndGlyphs">Top Bracket</text>
<text x="511" y="352" font-size="36" text-anchor="middle" textLength="135" lengthAdjust="spacingAndGlyphs">Type 10</text>
<text x="510.8" y="565.5" font-size="36" text-anchor="middle" textLength="205" lengthAdjust="spacingAndGlyphs">Top Bracket</text>
<text x="508.4" y="605.5" font-size="36" text-anchor="middle" textLength="212" lengthAdjust="spacingAndGlyphs">Types 20, 21</text>
<text x="511.4" y="645" font-size="36" text-anchor="middle" textLength="115" lengthAdjust="spacingAndGlyphs">and 22</text>
<text x="1028.8" y="744.8" font-size="36" text-anchor="middle" textLength="266" lengthAdjust="spacingAndGlyphs">Bottom Bracket</text>
<text x="1028" y="783.2" font-size="36" text-anchor="middle" textLength="136" lengthAdjust="spacingAndGlyphs">Type 10</text>
<text x="1489.9" y="804.8" font-size="36" text-anchor="middle" textLength="265" lengthAdjust="spacingAndGlyphs">Bottom Bracket</text>
<text x="1486.3" y="844.6" font-size="36" text-anchor="middle" textLength="211.5" lengthAdjust="spacingAndGlyphs">Types 20, 21</text>
<text x="1489.5" y="883.8" font-size="36" text-anchor="middle" textLength="115" lengthAdjust="spacingAndGlyphs">and 22</text>
<text x="625.2" y="1340.5" font-size="36" text-anchor="middle" textLength="205" lengthAdjust="spacingAndGlyphs">Top Bracket</text>
<text x="625.5" y="1379.8" font-size="36" text-anchor="middle" textLength="135" lengthAdjust="spacingAndGlyphs">Type 10</text>
<text x="625.2" y="1656.3" font-size="36" text-anchor="middle" textLength="205" lengthAdjust="spacingAndGlyphs">Top Bracket</text>
<text x="622.8" y="1696.2" font-size="36" text-anchor="middle" textLength="212" lengthAdjust="spacingAndGlyphs">Types 20, 21</text>
<text x="626" y="1735.5" font-size="36" text-anchor="middle" textLength="115" lengthAdjust="spacingAndGlyphs">and 22</text>
<text x="869.5" y="1575.7" font-size="36" text-anchor="middle" textLength="42" lengthAdjust="spacingAndGlyphs">x4</text>
<text x="968.1" y="1885.7" font-size="36" text-anchor="middle" textLength="42" lengthAdjust="spacingAndGlyphs">x4</text>
</g>
</svg>
</body></html>
